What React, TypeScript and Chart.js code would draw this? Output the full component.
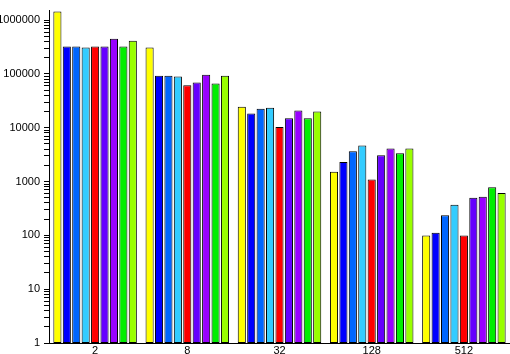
import React, { useEffect, useRef } from "react";
import { Chart, registerables } from "chart.js";

Chart.register(...registerables);

const categories = ["2", "8", "32", "128", "512"];

const seriesA = [1450000, 309000, 24600, 1528, 99];
const seriesB = [322000, 92700, 18400, 2312, 112];
const seriesC = [322000, 92700, 22600, 3648, 236];
const seriesD = [309000, 89000, 23600, 4680, 372];
const seriesE = [322000, 61300, 10300, 1096, 99];
const seriesF = [322000, 69300, 15000, 3090, 498];
const seriesG = [449000, 96700, 20800, 4130, 519];
const seriesH = [322000, 66600, 15000, 3358, 786];
const seriesI = [413000, 92700, 20000, 4130, 613];

const seriesList = [seriesA, seriesB, seriesC, seriesD, seriesE, seriesF, seriesG, seriesH, seriesI];
const seriesColors = [
  "#ffff00",
  "#0000ff",
  "#0066ff",
  "#33ccff",
  "#ff0000",
  "#6600ff",
  "#9900ff",
  "#00ee00",
  "#99ff00",
];

const yMin = 1;
const yMax = 1500000;
const yDecades = [1, 10, 100, 1000, 10000, 100000, 1000000];

export default function App() {
  const ref = useRef<HTMLCanvasElement | null>(null);

  useEffect(() => {
    if (!ref.current) return;
    const font = { family: "'Liberation Sans', Arial, Helvetica, sans-serif", size: 11 };
    const chart = new Chart(ref.current, {
      type: "bar",
      data: {
        labels: categories,
        datasets: seriesList.map((d, i) => ({
          label: "Series " + (i + 1),
          data: d,
          backgroundColor: seriesColors[i],
          borderColor: "#000000",
          borderWidth: 1,
          borderSkipped: false,
          barPercentage: 0.86,
          categoryPercentage: 0.92,
        })),
      },
      options: {
        animation: false,
        responsive: false,
        devicePixelRatio: 1,
        layout: { padding: 0 },
        plugins: { legend: { display: false }, tooltip: { enabled: false } },
        scales: {
          x: {
            type: "category",
            grid: { display: true, drawOnChartArea: false, drawTicks: false },
            border: { display: true, color: "#000000", width: 1 },
            ticks: { color: "#000000", font, padding: 1, maxRotation: 0, autoSkip: false },
            afterFit: (scale: any) => {
              scale.height = 11;
            },
          },
          y: {
            type: "logarithmic",
            min: yMin,
            max: yMax,
            grid: {
              display: true,
              drawOnChartArea: false,
              drawTicks: true,
              tickLength: 5,
              tickColor: "#000000",
            },
            border: { display: true, color: "#000000", width: 1 },
            ticks: {
              color: "#000000",
              font,
              padding: 4,
              autoSkip: false,
              callback: (value: any) => {
                const v = Number(value);
                return yDecades.includes(v) ? String(v) : "";
              },
            },
            afterBuildTicks: (scale: any) => {
              const t: { value: number }[] = [];
              for (const d of yDecades) {
                for (let s = 1; s <= 9; s++) {
                  const v = d * s;
                  if (v <= yMax) t.push({ value: v });
                }
              }
              scale.ticks = t;
            },
            afterFit: (scale: any) => {
              scale.width = 49;
            },
          },
        },
      },
    });
    return () => chart.destroy();
  }, []);

  return (
    <div style={{ position: "fixed", left: 0, top: 0, width: 510, height: 354, background: "#ffffff" }}>
      <canvas ref={ref} width={510} height={354} style={{ display: "block" }} />
    </div>
  );
}
